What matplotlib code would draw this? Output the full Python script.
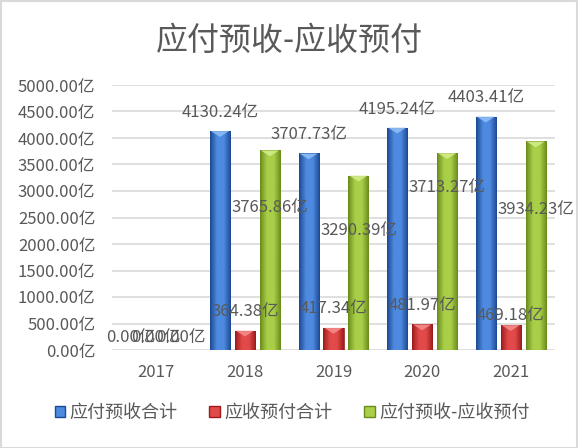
import matplotlib
matplotlib.use("Agg")
import matplotlib.pyplot as plt
import numpy as np
from matplotlib.patches import Rectangle, Patch, Polygon
from matplotlib.colors import LinearSegmentedColormap

plt.rcParams['font.family'] = ['Noto Sans CJK SC', 'DejaVu Sans']

# ---- data ----
years = ['2017', '2018', '2019', '2020', '2021']
payable_total = [0.00, 4130.24, 3707.73, 4195.24, 4403.41]      # 应付预收合计
receivable_total = [0.00, 364.38, 417.34, 481.97, 469.18]       # 应收预付合计
net_value = [0.00, 3765.86, 3290.39, 3713.27, 3934.23]          # 应付预收-应收预付
series_names = ['应付预收合计', '应收预付合计', '应付预收-应收预付']
y_ticks = [0, 500, 1000, 1500, 2000, 2500, 3000, 3500, 4000, 4500, 5000]

# label anchor heights (data units), as placed in the reference
label_y_blue = [245, 4490, 4057, 4547, 4755]
label_y_red = [245, 717, 792, 849, 660]
label_y_green = [245, 2698, 2264, 3057, 2642]

text_color = '#595959'
grid_color = '#d9d9d9'

styles = [
    dict(edge='#1d4a94', mid='#4d8ae0', top='#8dbdf5'),
    dict(edge='#9c1c1c', mid='#e24a4a', top='#f58a8a'),
    dict(edge='#6a8c1c', mid='#a9cf48', top='#d2ec86'),
]

fig = plt.figure(figsize=(5.78, 4.48), dpi=100)
ax = fig.add_axes([112/578, 98/448, 443/578, 265/448])
ax.set_xlim(-0.5, 4.5)
ax.set_ylim(0, 5000)

ax.set_yticks(y_ticks)
ax.set_yticklabels([f'{v:.2f}亿' for v in y_ticks], fontsize=12, color=text_color)
ax.set_xticks(range(len(years)))
ax.set_xticklabels(years, fontsize=12, color=text_color)
ax.tick_params(length=0, pad=12)
ax.tick_params(axis='x', pad=10)
for s in ax.spines.values():
    s.set_visible(False)
ax.grid(axis='y', color=grid_color, linewidth=1.2)
ax.set_axisbelow(True)

width = 0.226
offsets = [-0.282, 0.0, 0.282]
series = [payable_total, receivable_total, net_value]
label_ys = [label_y_blue, label_y_red, label_y_green]

x = np.arange(len(years))
for k, (vals, st) in enumerate(zip(series, styles)):
    cmap = LinearSegmentedColormap.from_list('g%d' % k, [st['edge'], st['mid'], st['mid'], st['edge']])
    grad = np.linspace(0, 1, 64).reshape(1, -1)
    for i, v in enumerate(vals):
        if v <= 0:
            continue
        x0 = x[i] + offsets[k] - width / 2
        x1 = x0 + width
        im = ax.imshow(grad, cmap=cmap, aspect='auto', extent=[x0, x1, 0, v], zorder=3)
        clip = Rectangle((x0, 0), width, v, transform=ax.transData)
        im.set_clip_path(clip)
        ax.add_patch(Rectangle((x0, 0), width, v, fill=False, edgecolor=st['edge'], linewidth=0.6, zorder=4))
        # top bevel triangle
        bevel_h = 110
        tri = Polygon([(x0 + 0.01, v), (x1 - 0.01, v), (x0 + width / 2, v - bevel_h)],
                      closed=True, facecolor=st['top'], edgecolor='none', alpha=0.9, zorder=4)
        ax.add_patch(tri)
    for i, v in enumerate(vals):
        ax.text(x[i] + offsets[k], label_ys[k][i], f'{v:.2f}亿', ha='center', va='center',
                fontsize=12, color=text_color, zorder=6)

fig.text(0.5, 0.908, '应付预收-应收预付', ha='center', va='center', fontsize=23,
         color=text_color, fontweight='medium')

handles = [Patch(facecolor=st['mid'], edgecolor=st['edge']) for st in styles]
fig.legend(handles, series_names, loc='center', bbox_to_anchor=(0.505, 1 - 413/448), ncol=3,
           frameon=False, fontsize=13, handlelength=0.6, handleheight=0.6,
           handletextpad=0.2, columnspacing=1.8, labelcolor=text_color)

fig.patches.append(Rectangle((0.001, 0.001), 0.997, 0.997, transform=fig.transFigure,
                             fill=False, edgecolor=grid_color, linewidth=1.5))

fig.savefig('out.png', dpi=100)
